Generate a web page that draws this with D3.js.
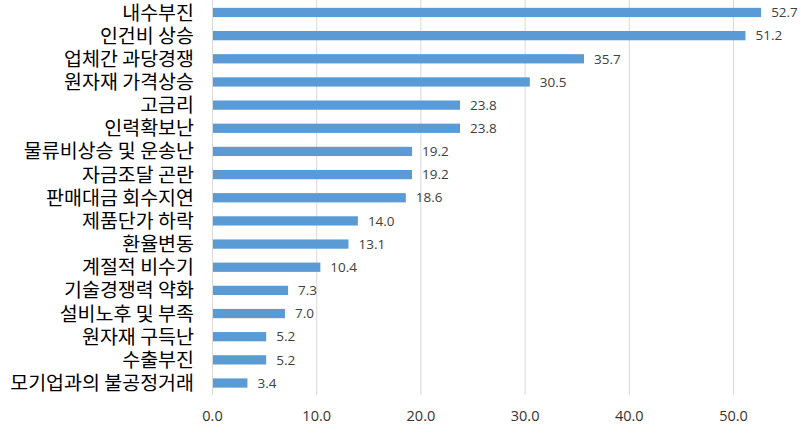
<!DOCTYPE html>
<html><head><meta charset="utf-8">
<script src="https://cdn.jsdelivr.net/npm/d3@7"></script>
<style>body{margin:0;background:#fff}svg{display:block}</style>
</head><body>
<svg id="c" width="800" height="429"></svg>
<script>
const categories = ["내수부진","인건비 상승","업체간 과당경쟁","원자재 가격상승","고금리","인력확보난","물류비상승 및 운송난","자금조달 곤란","판매대금 회수지연","제품단가 하락","환율변동","계절적 비수기","기술경쟁력 약화","설비노후 및 부족","원자재 구득난","수출부진","모기업과의 불공정거래"];
const values = [52.7,51.2,35.7,30.5,23.8,23.8,19.2,19.2,18.6,14.0,13.1,10.4,7.3,7.0,5.2,5.2,3.4];
const xTicks = [0,10,20,30,40,50];

const svg = d3.select("#c");
const x = d3.scaleLinear().domain([0,50]).range([212,733]);
const y = d3.scaleBand().domain(categories).range([0.9,394.6]).paddingInner(0.6).paddingOuter(0.3);
const plotTop = 0, plotBottom = 395;

// gridlines
svg.append("g").selectAll("line").data(xTicks).join("line")
  .attr("x1", d=>x(d)+0.5).attr("x2", d=>x(d)+0.5)
  .attr("y1", plotTop).attr("y2", plotBottom)
  .attr("stroke", "#d9d9d9").attr("stroke-width", 1);

// x axis labels
const xAxis = d3.axisBottom(x).tickValues(xTicks).tickFormat(d3.format(".1f")).tickSize(0).tickPadding(0);
const gx = svg.append("g").attr("transform", `translate(0,${416})`).call(xAxis);
gx.select(".domain").remove();
gx.selectAll("text").attr("dy","0.35em").attr("font-family","'Open Sans','Noto Sans',sans-serif").attr("font-size",14.5).attr("fill","#333");

// bars
svg.append("g").selectAll("rect").data(values).join("rect")
  .attr("x", x(0)+1).attr("y", (d,i)=>y(categories[i]))
  .attr("width", d=>x(d)-x(0)-1).attr("height", y.bandwidth())
  .attr("fill", "#5b9bd5");

// value labels
svg.append("g").selectAll("text").data(values).join("text")
  .attr("x", d=>x(d)+10).attr("y", (d,i)=>y(categories[i])+y.bandwidth()/2)
  .attr("dy","0.35em")
  .attr("font-family","'Open Sans','Noto Sans',sans-serif").attr("font-size",13.5).attr("fill","#404040")
  .text(d=>d3.format(".1f")(d));

// category labels
const yAxis = d3.axisLeft(y).tickSize(0).tickPadding(0);
const gy = svg.append("g").attr("transform","translate(194,0)").call(yAxis);
gy.select(".domain").remove();
gy.selectAll("text").attr("dy","0.36em").attr("font-family","'Noto Sans CJK KR',sans-serif").attr("font-size",19.5).attr("fill","#000");
</script>
</body></html>
